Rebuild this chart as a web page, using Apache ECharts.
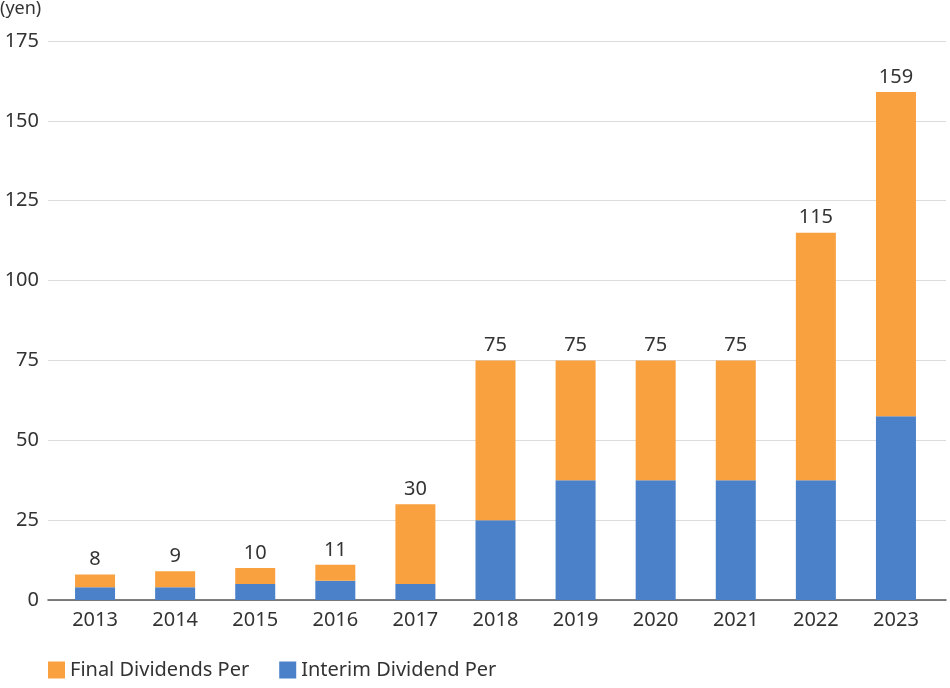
<!DOCTYPE html>
<html><head><meta charset="utf-8">
<script src="https://cdn.jsdelivr.net/npm/echarts@6/dist/echarts.min.js"></script>
<style>html,body{margin:0;padding:0;background:#fff}#c{width:950px;height:688px}</style>
</head><body><div id="c"></div>
<script>
const categories = ['2013','2014','2015','2016','2017','2018','2019','2020','2021','2022','2023'];
const interim = [4, 4, 5, 6, 5, 25, 37.5, 37.5, 37.5, 37.5, 57.5];
const finalDiv = [4, 5, 5, 5, 25, 50, 37.5, 37.5, 37.5, 77.5, 101.5];
const totals = [8, 9, 10, 11, 30, 75, 75, 75, 75, 115, 159];
const yTicks = [0, 25, 50, 75, 100, 125, 150, 175];

const FONT = '"Noto Sans", sans-serif';
const FS = 20;
const chart = echarts.init(document.getElementById('c'), null, {renderer: 'canvas'});
chart.setOption({
  animation: false,
  textStyle: {fontFamily: FONT},
  graphic: [{type: 'text', left: 0, top: 0, style: {text: '(yen)', fontSize: 18, fill: '#333', fontFamily: FONT}}],
  legend: {
    bottom: 3, left: 43, itemWidth: 17, itemHeight: 17, itemGap: 30,
    icon: 'rect',
    textStyle: {fontSize: 20, color: '#333', fontFamily: FONT},
    data: ['Final Dividends Per', 'Interim Dividend Per']
  },
  grid: [
    {left: 48, right: 4, top: 41, bottom: 88, containLabel: false},
    {left: 55, right: 14, top: 41, bottom: 88, containLabel: false}
  ],
  xAxis: [
    {type: 'value', gridIndex: 0, min: 0, max: 1, show: true,
     axisLine: {show: true, onZero: false, lineStyle: {color: '#555', width: 1.5}},
     axisTick: {show: false}, axisLabel: {show: false}, splitLine: {show: false}},
    {type: 'category', gridIndex: 1, data: categories,
     axisLine: {show: false}, axisTick: {show: false},
     axisLabel: {fontSize: FS, color: '#333', margin: 10, fontFamily: FONT}}
  ],
  yAxis: [
    {type: 'value', gridIndex: 0, min: 0, max: 175, interval: 25,
     axisLine: {show: false}, axisTick: {show: false},
     axisLabel: {fontSize: FS, color: '#333', margin: 9, fontFamily: FONT,
                 formatter: v => yTicks.includes(v) ? String(v) : ''},
     splitLine: {lineStyle: {color: '#dcdcdc', width: 1}}},
    {type: 'value', gridIndex: 1, min: 0, max: 175, interval: 25, show: false,
     splitLine: {show: false}}
  ],
  series: [
    {name: 'Interim Dividend Per', type: 'bar', stack: 'd', xAxisIndex: 1, yAxisIndex: 1,
     data: interim, barWidth: 40, itemStyle: {color: '#4a81c8'}},
    {name: 'Final Dividends Per', type: 'bar', stack: 'd', xAxisIndex: 1, yAxisIndex: 1,
     data: finalDiv, barWidth: 40, itemStyle: {color: '#f9a03f'},
     label: {show: true, position: 'top', distance: 5, fontSize: FS, color: '#333', fontFamily: FONT,
             formatter: p => String(totals[p.dataIndex])}}
  ]
});
</script></body></html>
